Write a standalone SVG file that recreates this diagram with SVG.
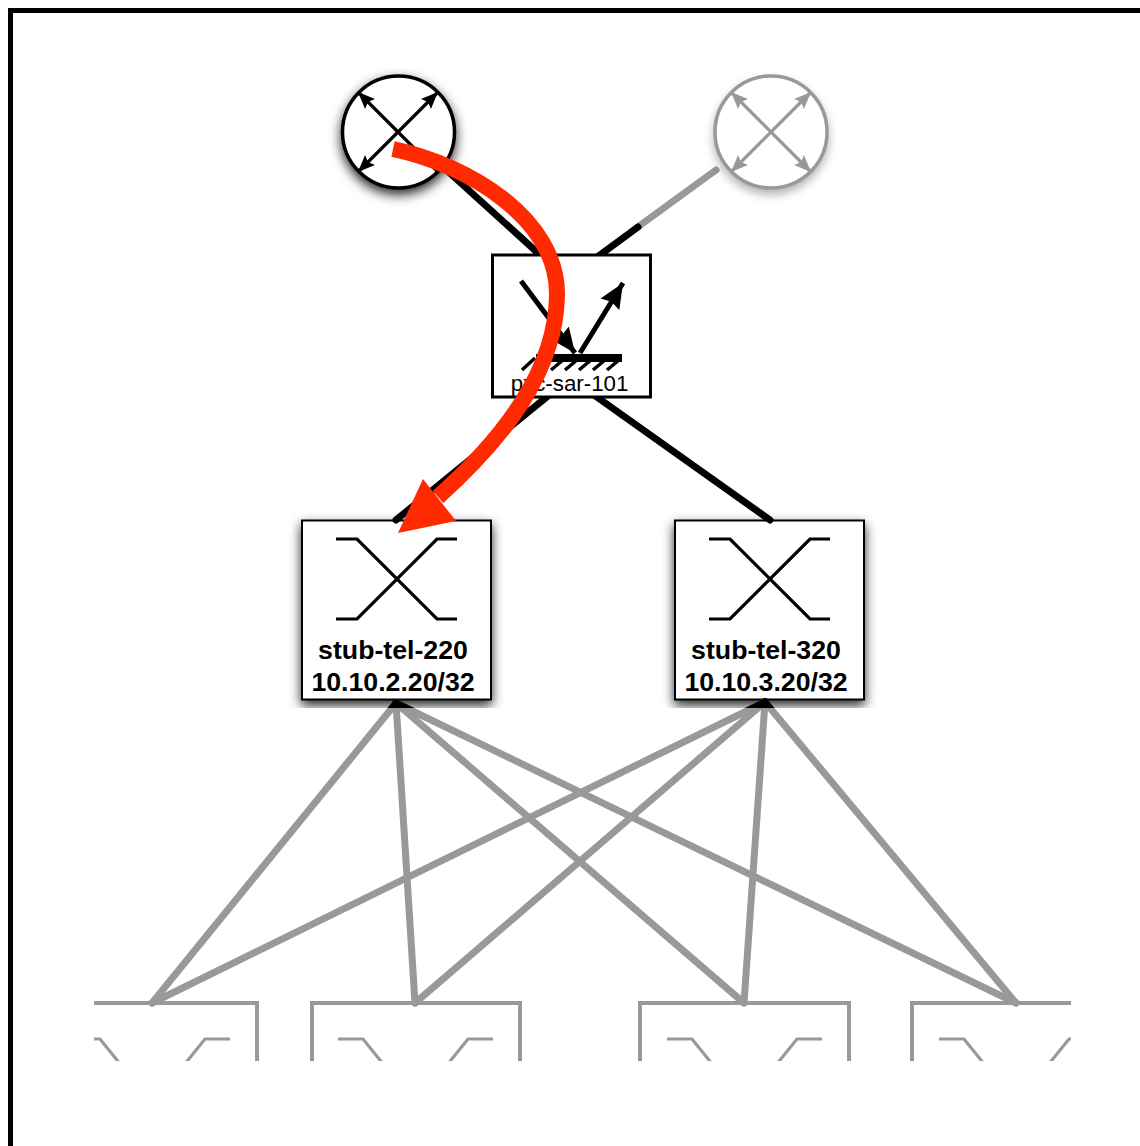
<svg xmlns="http://www.w3.org/2000/svg" width="1140" height="1146" viewBox="0 0 1140 1146">
<style>
.frame{fill:none;stroke:#000;stroke-width:5}
.nodeK{fill:#fff;stroke:#000}
.ic{fill:none;stroke:#000;stroke-width:3.2}
.icG{fill:none;stroke:#999;stroke-width:3.2}
.cx{fill:none;stroke-linecap:round;stroke-width:7}
.lbl{font-family:"Liberation Sans",Arial,sans-serif;fill:#000;text-anchor:middle}
.b{font-weight:bold;font-size:26.7px}
</style>
<defs>
<filter id="sh" filterUnits="userSpaceOnUse" x="0" y="0" width="1140" height="708" color-interpolation-filters="sRGB"><feDropShadow dx="0" dy="5" stdDeviation="6" flood-color="#000" flood-opacity="0.85"/></filter>
<filter id="shL" filterUnits="userSpaceOnUse" x="0" y="0" width="1140" height="708" color-interpolation-filters="sRGB"><feDropShadow dx="0" dy="5" stdDeviation="5" flood-color="#000" flood-opacity="0.3"/></filter>
<clipPath id="cropAll"><rect x="94" y="0" width="977" height="1061"/></clipPath>
<clipPath id="cropTop"><rect x="0" y="690" width="1140" height="18"/></clipPath>
<marker id="ak" markerUnits="userSpaceOnUse" markerWidth="18" markerHeight="16" viewBox="0 -8 18 16" refX="17" refY="0" orient="auto-start-reverse"><path d="M0,-7 L17,0 L0,7 L3,0Z" fill="#000"/></marker>
<marker id="ag" markerUnits="userSpaceOnUse" markerWidth="18" markerHeight="16" viewBox="0 -8 18 16" refX="17" refY="0" orient="auto-start-reverse"><path d="M0,-7 L17,0 L0,7 L3,0Z" fill="#999"/></marker>
<marker id="akL" markerUnits="userSpaceOnUse" markerWidth="26" markerHeight="24" viewBox="0 -12 26 24" refX="25" refY="0" orient="auto"><path d="M0,-11 L25,0 L0,11 L3,0Z" fill="#000"/></marker>
<g id="fan">
<path d="M396,703 L152,1003"/><path d="M396,703 L415,1003"/><path d="M396,703 L744,1003"/><path d="M396,703 L1016,1003"/>
<path d="M765,702 L152,1003"/><path d="M765,702 L415,1003"/><path d="M765,702 L744,1003"/><path d="M765,702 L1016,1003"/>
</g>
<g id="xb"><path d="M27,36 H52 L157,166"/><path d="M182,36 H157 L52,166"/></g>
</defs>
<rect class="frame" x="10.500" y="10.500" width="1200" height="1200"/>
<g clip-path="url(#cropAll)">
<g id="leaf-1"><rect x="48" y="1003" width="209" height="120" fill="#fff" stroke="#999" stroke-width="4"/><use href="#xb" x="48" y="1003" class="icG"/></g>
<g id="leaf-2"><rect x="312" y="1003" width="208" height="120" fill="#fff" stroke="#999" stroke-width="4"/><use href="#xb" x="311" y="1003" class="icG"/></g>
<g id="leaf-3"><rect x="640" y="1003" width="209" height="120" fill="#fff" stroke="#999" stroke-width="4"/><use href="#xb" x="640" y="1003" class="icG"/></g>
<g id="leaf-4"><rect x="912" y="1003" width="209" height="120" fill="#fff" stroke="#999" stroke-width="4"/><use href="#xb" x="912" y="1003" class="icG"/></g>
</g>
<g id="stub-tel-220">
<rect class="nodeK" x="302" y="520.500" width="189" height="179" stroke-width="2" filter="url(#sh)"/>
<path class="ic" d="M336,539 H357 L437,619 H457"/><path class="ic" d="M336,619 H357 L437,539 H457"/>
<text class="lbl b" x="393" y="659">stub-tel-220</text>
<text class="lbl b" x="393" y="691">10.10.2.20/32</text>
</g>
<g id="stub-tel-320">
<rect class="nodeK" x="675" y="520.500" width="189" height="179" stroke-width="2" filter="url(#sh)"/>
<path class="ic" d="M709,539 H730 L810,619 H830"/><path class="ic" d="M709,619 H730 L810,539 H830"/>
<text class="lbl b" x="766" y="659">stub-tel-320</text>
<text class="lbl b" x="766" y="691">10.10.3.20/32</text>
</g>
<g id="connectors">
<path class="cx" stroke="#000" d="M398,126 L560,273"/>
<path class="cx" stroke="#999" d="M716,170 L635,229"/>
<path class="cx" stroke="#000" d="M638,227 L570,277"/>
<path class="cx" stroke="#000" d="M570,378 L396,520"/>
<path class="cx" stroke="#000" d="M570,378 L770,520"/>
<use href="#fan" class="cx" stroke="#999"/>
<g clip-path="url(#cropTop)"><use href="#fan" class="cx" stroke="#000"/></g>
</g>
<g id="pxc-sar-101">
<rect class="nodeK" x="492.500" y="255" width="158" height="142" stroke-width="3"/>
<path d="M521,281 L575,353" fill="none" stroke="#000" stroke-width="5" marker-end="url(#akL)"/>
<path d="M580,353 L623,283" fill="none" stroke="#000" stroke-width="5" marker-end="url(#akL)"/>
<path d="M536,358 H622" stroke="#000" stroke-width="8" fill="none"/>
<path d="M522,370 L535,358 M537,370 L549,360 M551,370 L563,360 M565,370 L577,360 M579,370 L591,360 M593,370 L605,360 M607,370 L619,360" stroke="#000" stroke-width="3.500" fill="none"/>
<text class="lbl" x="569.500" y="391" font-size="22.3px">pxc-sar-101</text>
</g>
<g id="router-1">
<circle cx="398.500" cy="132" r="56" fill="#fff" stroke="#000" stroke-width="3.500" filter="url(#sh)"/>
<path class="ic" d="M358,92 L438,172" marker-start="url(#ak)"/>
<path class="ic" d="M358,172 L438,92" marker-start="url(#ak)" marker-end="url(#ak)"/>
</g>
<g id="router-2">
<circle cx="771" cy="132" r="56" fill="#fff" stroke="#999" stroke-width="3.500" filter="url(#shL)"/>
<path class="icG" d="M731,92 L811,172" marker-start="url(#ag)" marker-end="url(#ag)"/>
<path class="icG" d="M731,172 L811,92" marker-start="url(#ag)" marker-end="url(#ag)"/>
</g>
<g id="flow">
<path d="M393,149 C470,165 558,220 557,295 C556,370 505,437 438,497" fill="none" stroke="#ff2a00" stroke-width="16"/>
<polygon points="398,533 423,479 456,521" fill="#ff2a00"/>
</g>
</svg>
